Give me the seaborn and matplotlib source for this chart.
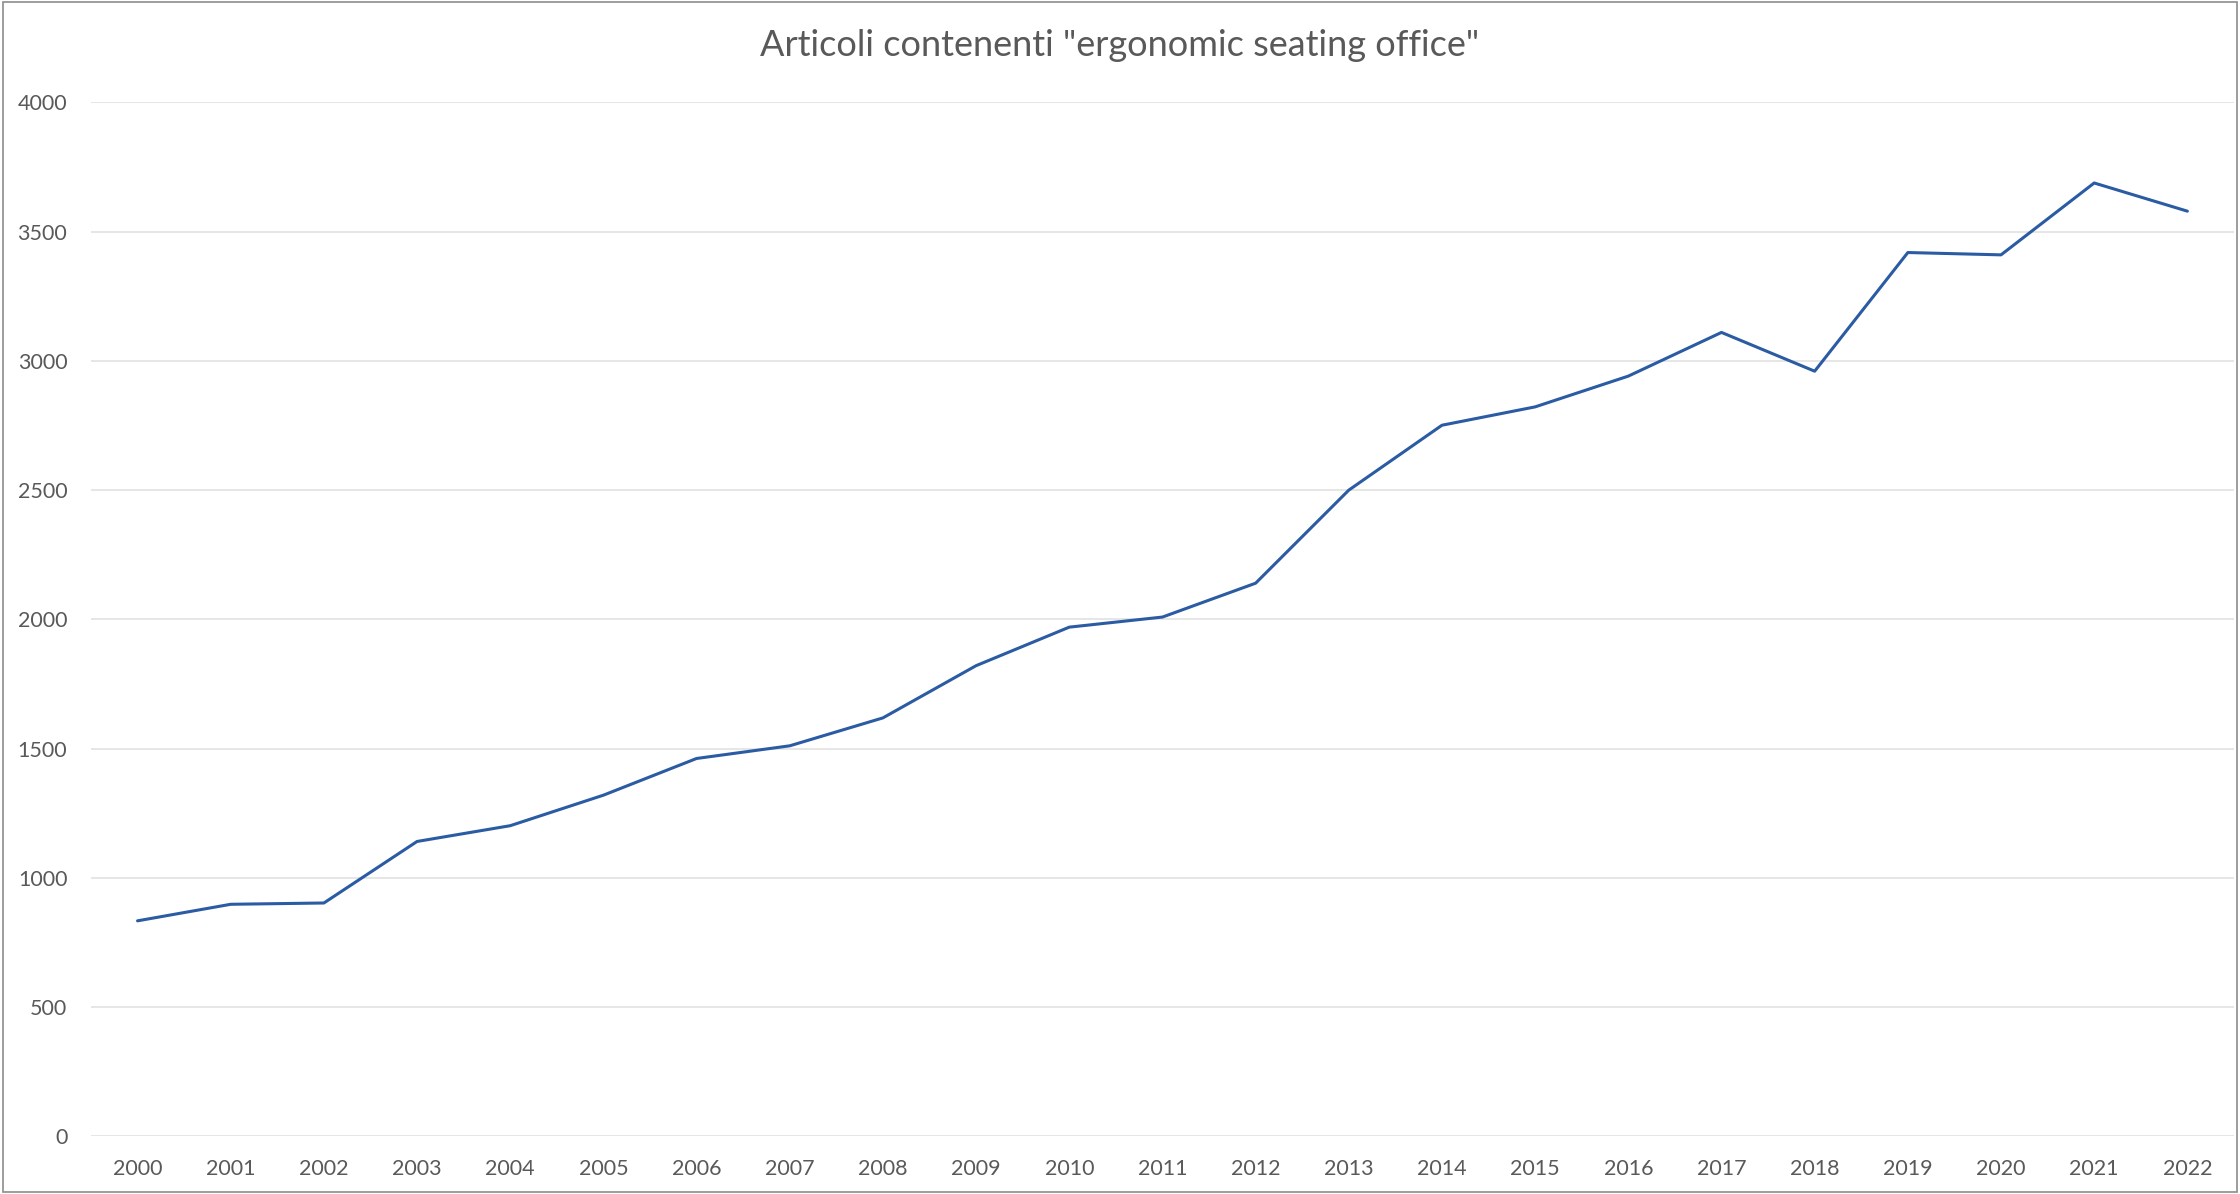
import matplotlib
matplotlib.use("Agg")
import matplotlib.pyplot as plt
import seaborn as sns
import numpy as np
import pandas as pd
from matplotlib.patches import Rectangle

years = ["2000", "2001", "2002", "2003", "2004", "2005", "2006", "2007", "2008",
         "2009", "2010", "2011", "2012", "2013", "2014", "2015", "2016", "2017",
         "2018", "2019", "2020", "2021", "2022"]
articles = [834, 898, 903, 1141, 1202, 1320, 1462, 1511, 1619, 1821, 1970, 2009,
            2140, 2500, 2751, 2822, 2941, 3110, 2960, 3419, 3410, 3688, 3579]
y_ticks = [0, 500, 1000, 1500, 2000, 2500, 3000, 3500, 4000]
title = 'Articoli contenenti "ergonomic seating office"'

sns.set_theme(style="white")
plt.rcParams["font.family"] = ["Lato", "DejaVu Sans"]

df = pd.DataFrame({"pos": np.arange(len(years)), "year": years, "value": articles})

fig = plt.figure(figsize=(22.4, 11.94), dpi=100)
fig.patch.set_facecolor("white")
ax = fig.add_axes([0.0406, 0.0482, 0.9567, 0.8661])

sns.lineplot(data=df, x="pos", y="value", ax=ax, color="#2a5ba3", linewidth=2.2)

ax.set_xlim(-0.5, len(years) - 0.5)
ax.set_ylim(0, 4000)
ax.set_yticks(y_ticks)
ax.set_yticklabels([str(v) for v in y_ticks])
ax.set_xticks(df["pos"])
ax.set_xticklabels(years)
ax.set_xlabel("")
ax.set_ylabel("")
ax.grid(axis="y", color="#e6e6e6", linewidth=1.4)
ax.grid(axis="x", visible=False)
ax.set_axisbelow(True)
for s in ax.spines.values():
    s.set_visible(False)
ax.tick_params(axis="both", length=0, labelsize=15.5, labelcolor="#595959")
ax.tick_params(axis="y", pad=17)
ax.tick_params(axis="x", pad=16)

fig.text(0.5, 1 - 46 / 1194, title, ha="center", va="center", fontsize=26, color="#595959")

fig.patches.append(Rectangle((0.0015, 0.002), 0.997, 0.996, transform=fig.transFigure,
                             fill=False, edgecolor="#8c8c8c", linewidth=1.2))

fig.savefig("out.png", dpi=100, facecolor="white")
